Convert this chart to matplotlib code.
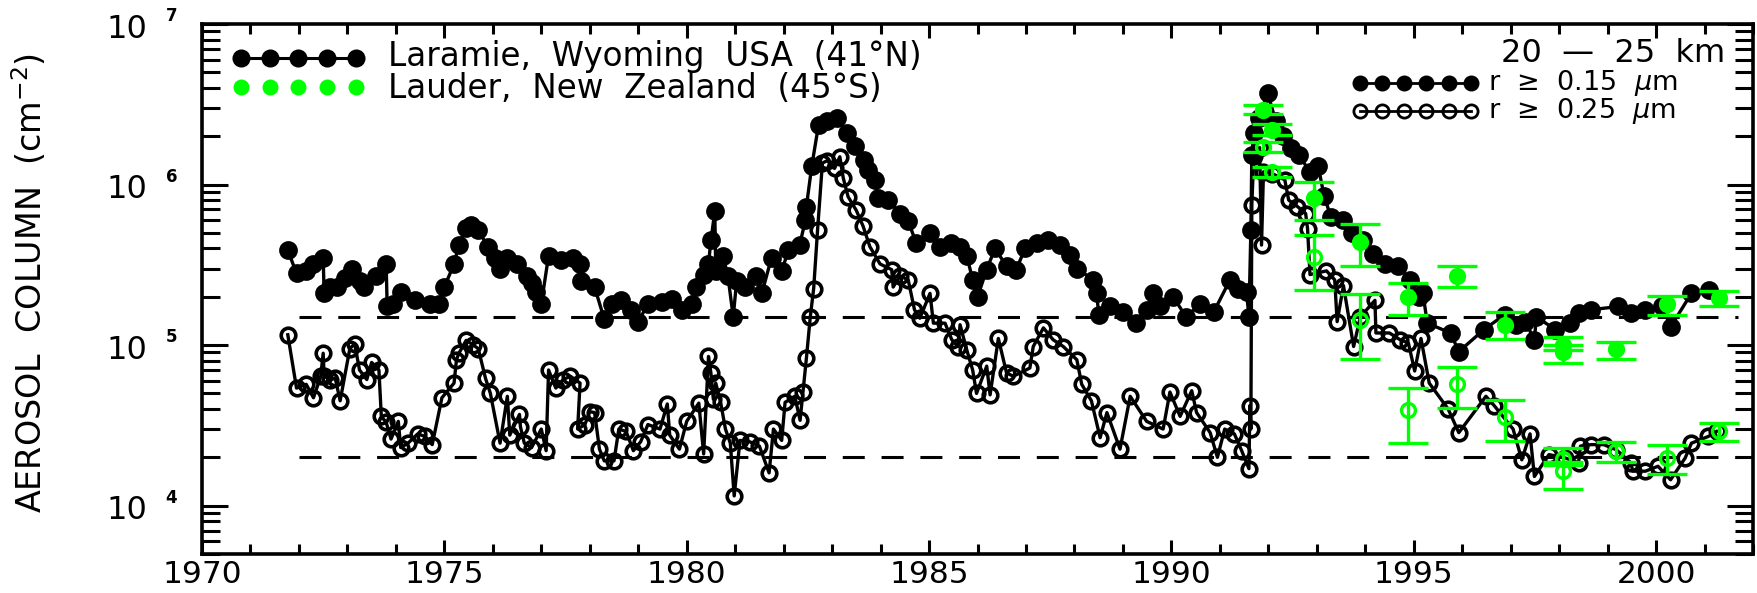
import matplotlib
matplotlib.use("Agg")
import matplotlib.pyplot as plt
import numpy as np
from matplotlib.ticker import MultipleLocator, LogLocator, NullFormatter
from matplotlib.transforms import offset_copy

# Laramie, Wyoming : r >= 0.15 um (filled symbols)
lar15_year = [1971.77, 1971.95, 1972.15, 1972.30, 1972.50, 1972.52, 1972.65, 1972.78, 1972.95, 1973.10,
              1973.25, 1973.35, 1973.60, 1973.80, 1973.82, 1973.95, 1974.10, 1974.40, 1974.70, 1974.90,
              1975.00, 1975.20, 1975.30, 1975.45, 1975.55, 1975.70, 1975.90, 1976.05, 1976.15, 1976.30,
              1976.50, 1976.70, 1976.80, 1976.90, 1977.00, 1977.15, 1977.40, 1977.65, 1977.80, 1977.82,
              1978.10, 1978.30, 1978.45, 1978.65, 1978.85, 1979.00, 1979.20, 1979.50, 1979.70, 1979.90,
              1980.10, 1980.20, 1980.35, 1980.45, 1980.50, 1980.58, 1980.60, 1980.75, 1980.85, 1980.96,
              1981.03, 1981.20, 1981.44, 1981.55, 1981.75, 1981.96, 1982.10, 1982.33, 1982.45, 1982.47,
              1982.58, 1982.72, 1982.90, 1983.10, 1983.30, 1983.47, 1983.65, 1983.75, 1983.88, 1983.95,
              1984.16, 1984.40, 1984.57, 1984.74, 1985.02, 1985.23, 1985.45, 1985.64, 1985.78, 1985.90,
              1986.00, 1986.19, 1986.36, 1986.60, 1986.80, 1986.98, 1987.22, 1987.46, 1987.70, 1987.90,
              1988.05, 1988.39, 1988.46, 1988.50, 1988.73, 1989.00, 1989.28, 1989.49, 1989.63, 1989.77,
              1990.04, 1990.30, 1990.60, 1990.87, 1991.21, 1991.38, 1991.55, 1991.60, 1991.64, 1991.66,
              1991.70, 1991.80, 1991.99, 1992.15, 1992.30, 1992.47, 1992.64, 1992.85, 1993.03, 1993.15,
              1993.29, 1993.55, 1993.72, 1993.95, 1994.15, 1994.41, 1994.67, 1994.93, 1995.10, 1995.19,
              1995.28, 1995.76, 1995.93, 1996.45, 1996.88, 1997.10, 1997.30, 1997.49, 1997.53, 1997.92,
              1998.22, 1998.40, 1998.66, 1999.22, 1999.48, 1999.78, 2000.13, 2000.30, 2000.73, 2001.10]
lar15_col = [3.9e5, 2.8e5, 2.9e5, 3.2e5, 3.5e5, 2.1e5, 2.3e5, 2.3e5, 2.6e5, 3.0e5,
             2.5e5, 2.3e5, 2.7e5, 3.2e5, 1.75e5, 1.8e5, 2.15e5, 1.9e5, 1.8e5, 1.8e5,
             2.3e5, 3.2e5, 4.2e5, 5.4e5, 5.6e5, 5.2e5, 4.1e5, 3.5e5, 3.0e5, 3.5e5,
             3.2e5, 2.7e5, 2.45e5, 2.15e5, 1.8e5, 3.6e5, 3.4e5, 3.5e5, 3.2e5, 2.5e5,
             2.3e5, 1.45e5, 1.8e5, 1.9e5, 1.65e5, 1.4e5, 1.8e5, 1.85e5, 1.95e5, 1.65e5,
             1.8e5, 2.3e5, 2.75e5, 3.2e5, 4.5e5, 6.8e5, 2.9e5, 3.6e5, 2.7e5, 1.5e5,
             2.5e5, 2.3e5, 2.7e5, 2.1e5, 3.5e5, 2.9e5, 3.9e5, 4.2e5, 6.0e5, 7.3e5,
             1.3e6, 2.35e6, 2.5e6, 2.6e6, 2.1e6, 1.73e6, 1.42e6, 1.23e6, 1.07e6, 8.2e5,
             8.0e5, 6.6e5, 5.9e5, 4.3e5, 5.0e5, 4.1e5, 4.3e5, 4.1e5, 3.6e5, 2.55e5,
             2.0e5, 2.95e5, 4.0e5, 3.1e5, 2.95e5, 4.0e5, 4.3e5, 4.5e5, 4.2e5, 3.65e5,
             3.0e5, 2.55e5, 2.1e5, 1.55e5, 1.75e5, 1.6e5, 1.37e5, 1.65e5, 2.1e5, 1.75e5,
             2.0e5, 1.5e5, 1.8e5, 1.6e5, 2.55e5, 2.25e5, 2.15e5, 1.5e5, 5.2e5, 1.53e6,
             2.1e6, 2.6e6, 3.7e6, 2.5e6, 2.0e6, 1.68e6, 1.53e6, 1.2e6, 1.3e6, 8.5e5,
             6.3e5, 6.0e5, 5.0e5, 4.5e5, 3.7e5, 3.2e5, 3.1e5, 2.55e5, 2.0e5, 2.1e5,
             1.37e5, 1.19e5, 9.1e4, 1.25e5, 1.55e5, 1.34e5, 1.4e5, 1.08e5, 1.5e5, 1.25e5,
             1.37e5, 1.58e5, 1.66e5, 1.74e5, 1.58e5, 1.66e5, 1.74e5, 1.3e5, 2.1e5, 2.2e5]

# Laramie, Wyoming : r >= 0.25 um (open symbols)
lar25_year = [1971.77, 1971.95, 1972.15, 1972.30, 1972.45, 1972.50, 1972.52, 1972.65, 1972.75, 1972.85,
              1973.05, 1973.15, 1973.25, 1973.40, 1973.50, 1973.65, 1973.70, 1973.80, 1973.90, 1974.05,
              1974.10, 1974.25, 1974.45, 1974.60, 1974.75, 1974.95, 1975.20, 1975.25, 1975.30, 1975.45,
              1975.60, 1975.70, 1975.85, 1975.95, 1976.15, 1976.30, 1976.35, 1976.55, 1976.57, 1976.65,
              1976.80, 1977.00, 1977.10, 1977.15, 1977.30, 1977.45, 1977.60, 1977.80, 1977.75, 1977.90,
              1978.00, 1978.10, 1978.20, 1978.30, 1978.50, 1978.60, 1978.75, 1978.90, 1979.05, 1979.20,
              1979.45, 1979.60, 1979.65, 1979.85, 1980.00, 1980.25, 1980.35, 1980.45, 1980.50, 1980.55,
              1980.60, 1980.70, 1980.80, 1980.90, 1980.98, 1981.10, 1981.30, 1981.50, 1981.70, 1981.79,
              1981.96, 1982.03, 1982.23, 1982.34, 1982.40, 1982.47, 1982.55, 1982.62, 1982.70, 1982.80,
              1982.90, 1983.05, 1983.16, 1983.23, 1983.33, 1983.50, 1983.64, 1983.78, 1983.99, 1984.23,
              1984.26, 1984.40, 1984.57, 1984.70, 1984.81, 1985.02, 1985.09, 1985.33, 1985.47, 1985.60,
              1985.64, 1985.78, 1985.90, 1985.98, 1986.19, 1986.26, 1986.43, 1986.60, 1986.74, 1987.08,
              1987.15, 1987.36, 1987.56, 1987.77, 1988.05, 1988.15, 1988.35, 1988.53, 1988.67, 1988.94,
              1989.15, 1989.49, 1989.83, 1989.97, 1990.18, 1990.42, 1990.52, 1990.80, 1990.95, 1991.10,
              1991.30, 1991.45, 1991.60, 1991.62, 1991.64, 1991.66, 1991.70, 1991.82, 1991.86, 1991.90,
              1992.08, 1992.34, 1992.42, 1992.60, 1992.77, 1992.81, 1992.86, 1993.20, 1993.37, 1993.42,
              1993.55, 1993.76, 1993.90, 1994.20, 1994.22, 1994.50, 1994.72, 1994.89, 1995.02, 1995.15,
              1995.32, 1995.71, 1995.93, 1996.49, 1996.66, 1997.05, 1997.23, 1997.40, 1997.49, 1997.79,
              1998.13, 1998.40, 1998.44, 1998.66, 1998.92, 1999.18, 1999.48, 1999.52, 1999.78, 2000.04,
              2000.30, 2000.60, 2000.73, 2001.08, 2001.25]
lar25_col = [1.16e5, 5.4e4, 5.7e4, 4.7e4, 6.4e4, 8.9e4, 6.4e4, 6.1e4, 6.2e4, 4.5e4,
             9.5e4, 1.02e5, 7.0e4, 6.1e4, 7.8e4, 7.0e4, 3.6e4, 3.3e4, 2.6e4, 3.35e4,
             2.3e4, 2.45e4, 2.8e4, 2.7e4, 2.4e4, 4.7e4, 5.8e4, 8.1e4, 8.9e4, 1.07e5,
             1.0e5, 9.5e4, 6.2e4, 5.0e4, 2.45e4, 4.8e4, 2.75e4, 3.7e4, 3.1e4, 2.45e4,
             2.3e4, 3.0e4, 2.2e4, 7.0e4, 5.4e4, 6.1e4, 6.4e4, 5.8e4, 3.0e4, 3.2e4,
             3.85e4, 3.8e4, 2.25e4, 1.9e4, 1.9e4, 3.0e4, 2.9e4, 2.2e4, 2.5e4, 3.2e4,
             3.0e4, 4.3e4, 2.75e4, 2.25e4, 3.35e4, 4.35e4, 2.1e4, 8.5e4, 6.7e4, 4.6e4,
             5.8e4, 4.4e4, 3.0e4, 2.45e4, 1.15e4, 2.55e4, 2.5e4, 2.35e4, 1.6e4, 3.0e4,
             2.55e4, 4.4e4, 4.8e4, 3.4e4, 5.1e4, 8.3e4, 1.5e5, 2.25e5, 5.2e5, 1.36e6,
             1.41e6, 1.26e6, 1.49e6, 1.1e6, 8.4e5, 6.9e5, 5.5e5, 4.1e5, 3.2e5, 2.95e5,
             2.3e5, 2.7e5, 2.55e5, 1.66e5, 1.47e5, 2.1e5, 1.37e5, 1.37e5, 1.08e5, 9.8e4,
             1.34e5, 9.3e4, 7.0e4, 5.0e4, 7.4e4, 4.9e4, 1.1e5, 6.7e4, 6.4e4, 7.2e4,
             9.8e4, 1.28e5, 1.08e5, 9.8e4, 8.1e4, 5.7e4, 4.5e4, 2.65e4, 3.8e4, 2.25e4,
             4.8e4, 3.35e4, 3.0e4, 5.1e4, 3.6e4, 5.2e4, 3.8e4, 2.85e4, 2.0e4, 3.0e4,
             2.8e4, 2.2e4, 1.7e4, 4.2e4, 3.0e4, 7.5e5, 1.5e6, 1.7e6, 4.2e5, 1.2e6,
             1.17e6, 1.07e6, 8.0e5, 7.3e5, 6.6e5, 5.3e5, 2.75e5, 2.9e5, 2.55e5, 1.4e5,
             2.35e5, 9.8e4, 1.5e5, 1.9e5, 1.19e5, 1.19e5, 1.08e5, 1.03e5, 6.9e4, 1.1e5,
             5.8e4, 4.0e4, 2.85e4, 4.8e4, 4.2e4, 3.0e4, 1.93e4, 2.8e4, 1.52e4, 2.08e4,
             1.98e4, 1.85e4, 2.35e4, 2.4e4, 2.4e4, 2.23e4, 1.85e4, 1.64e4, 1.64e4, 1.76e4,
             1.45e4, 1.98e4, 2.45e4, 2.7e4, 2.9e4]

# Lauder, New Zealand : column with lower / upper error limits
lau15_year = [1991.90, 1992.08, 1992.94, 1993.90, 1994.89, 1995.89, 1996.88, 1998.09, 1998.09, 1999.18, 2000.22, 2001.30]
lau15_col = [2.9e6, 2.2e6, 8.3e5, 4.4e5, 2.0e5, 2.7e5, 1.34e5, 1.0e5, 9.0e4, 9.4e4, 1.8e5, 1.96e5]
lau15_lo = [2.75e6, 2.04e6, 6.0e5, 3.1e5, 1.55e5, 2.3e5, 1.09e5, 9.3e4, 7.7e4, 8.2e4, 1.55e5, 1.76e5]
lau15_hi = [3.13e6, 2.4e6, 1.04e6, 5.7e5, 2.43e5, 3.1e5, 1.6e5, 1.13e5, 1.0e5, 1.05e5, 2.03e5, 2.16e5]

lau25_year = [1991.90, 1992.08, 1992.94, 1993.90, 1994.89, 1995.89, 1996.88, 1998.09, 1998.09, 1999.18, 2000.22, 2001.30]
lau25_col = [1.72e6, 1.2e6, 3.56e5, 1.44e5, 3.96e4, 5.7e4, 3.55e4, 1.94e4, 1.64e4, 2.18e4, 1.98e4, 2.9e4]
lau25_lo = [1.6e6, 1.12e6, 2.21e5, 8.2e4, 2.45e4, 4.05e4, 2.51e4, 1.78e4, 1.27e4, 1.86e4, 1.57e4, 2.51e4]
lau25_hi = [1.85e6, 1.28e6, 4.86e5, 2.09e5, 5.4e4, 7.3e4, 4.57e4, 2.28e4, 1.86e4, 2.48e4, 2.4e4, 3.27e4]

# background levels (dashed)
bg_levels = [1.5e5, 2.0e4]
bg_start, bg_end = 1972.0, 2001.7

decades = [4, 5, 6, 7]

green = "#00ff00"
plt.rcParams["font.family"] = "DejaVu Sans"

fig = plt.figure(figsize=(17.58, 5.93), dpi=100)
ax = fig.add_axes([202 / 1758, 1 - 554 / 593, 1551 / 1758, 530 / 593])

for lev in bg_levels:
    ax.plot([bg_start, bg_end], [lev, lev], color="k", lw=2.2,
            linestyle=(0, (7.2, 5.5)), zorder=1)

ax.plot(lar15_year, lar15_col, "-o", color="k", lw=2.4, ms=11.5, mew=2, zorder=2)
ax.plot(lar25_year, lar25_col, "-o", color="k", lw=2.4, ms=10.5, mew=2.6,
        mfc="none", zorder=3)


def lauder(year, col, lo, hi, face):
    col = np.array(col)
    err = [col - np.array(lo), np.array(hi) - col]
    ax.errorbar(year, col, yerr=err, fmt="o", color=green, ecolor=green,
                ms=10, mew=2.4, mfc=face, elinewidth=2.4, capsize=14.5,
                capthick=2.4, zorder=4)


lauder(lau15_year, lau15_col, lau15_lo, lau15_hi, green)
lauder(lau25_year, lau25_col, lau25_lo, lau25_hi, "none")

ax.set_xlim(1970, 2002)
ax.set_yscale("log")
ax.set_ylim(5e3, 1e7)
ax.xaxis.set_major_locator(MultipleLocator(5))
ax.xaxis.set_minor_locator(MultipleLocator(1))
ax.yaxis.set_minor_locator(LogLocator(base=10, subs=np.arange(2, 10)))
ax.yaxis.set_minor_formatter(NullFormatter())

for s in ax.spines.values():
    s.set_linewidth(2.6)
ax.tick_params(which="both", direction="in", top=True, right=True, width=2.2)
ax.tick_params(axis="x", which="major", length=10, labelsize=22.5, pad=4)
ax.tick_params(axis="x", which="minor", length=7)
ax.tick_params(axis="y", which="major", length=18.5, labelleft=False)
ax.tick_params(axis="y", which="minor", length=13)

# y tick labels as "10" with a small bold exponent
ytr = ax.get_yaxis_transform()
base_tr = offset_copy(ytr, fig=fig, x=0, y=-5, units="dots")
exp_tr = offset_copy(ytr, fig=fig, x=0, y=8, units="dots")
for d in decades:
    ax.text(-0.035, 10.0 ** d, "10", transform=base_tr, ha="right",
            va="center", fontsize=23, clip_on=False)
    ax.text(-0.0235, 10.0 ** d, str(d), transform=exp_tr, ha="left",
            va="center", fontsize=12, fontweight="bold", clip_on=False)

fig.text(30 / 1758, 1 - 283 / 593, "AEROSOL  COLUMN  (cm$^{-2}$)",
         rotation=90, fontsize=24, ha="center", va="center")

# station key, upper left
tra = ax.transAxes
ax.plot(np.linspace(0.0251, 0.0993, 5), [0.936] * 5, "-o", color="k",
        lw=2.2, ms=11, mew=2, transform=tra, clip_on=False)
ax.plot(np.linspace(0.0251, 0.0993, 5), [0.881] * 5, "o", color=green,
        ms=11.5, mew=0, transform=tra, clip_on=False)
ax.text(0.12, 0.938, "Laramie,  Wyoming  USA  (41°N)", transform=tra,
        fontsize=23.5, va="center")
ax.text(0.12, 0.879, "Lauder,  New  Zealand  (45°S)", transform=tra,
        fontsize=23.5, va="center")

# size key, upper right
ax.text(0.982, 0.945, "20  —  25  km", transform=tra, fontsize=23,
        ha="right", va="center")
ax.plot(np.linspace(0.7466, 0.818, 6), [0.889] * 6, "-o", color="k",
        lw=2, ms=10, mew=1.5, transform=tra, clip_on=False)
ax.plot(np.linspace(0.7466, 0.818, 6), [0.836] * 6, "-o", color="k",
        lw=2, ms=9.5, mew=2, mfc="none", transform=tra, clip_on=False)
ax.text(0.829, 0.889, r"r  ≥  0.15  $\mu$m", transform=tra, fontsize=19.5,
        va="center")
ax.text(0.829, 0.836, r"r  ≥  0.25  $\mu$m", transform=tra, fontsize=19.5,
        va="center")

fig.savefig("out.png", dpi=100)
